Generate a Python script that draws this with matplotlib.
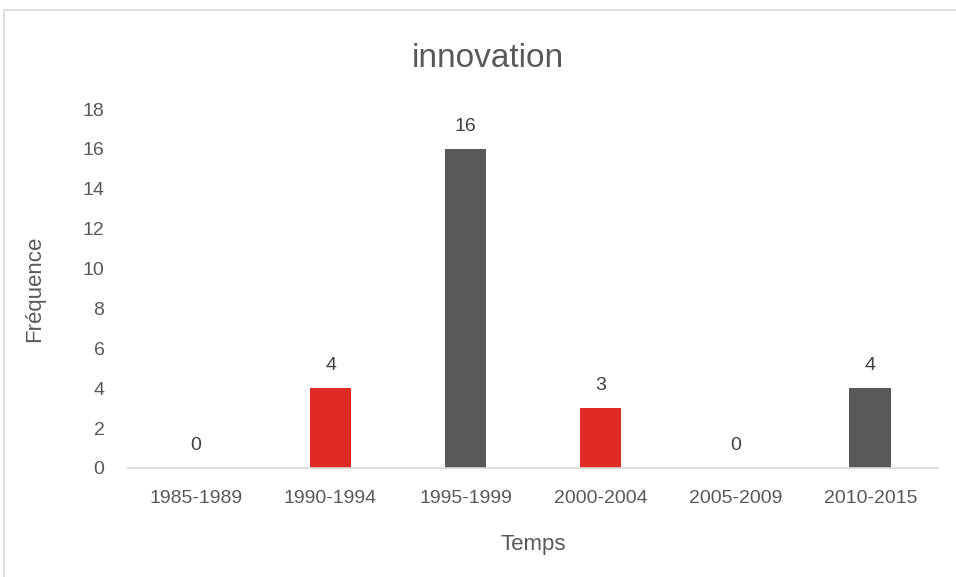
import matplotlib.pyplot as plt
from matplotlib.patches import Rectangle

categories = ["1985-1989", "1990-1994", "1995-1999", "2000-2004", "2005-2009", "2010-2015"]
values = [0, 4, 16, 3, 0, 4]
colors = ["#595959", "#E02B24", "#595959", "#E02B24", "#595959", "#595959"]

plt.rcParams['font.family'] = ['Liberation Sans', 'DejaVu Sans']
txt = "#595959"

fig = plt.figure(figsize=(9.56, 5.77), dpi=100)
fig.patches.append(Rectangle((0.004, -0.1), 1.2, 1.083, transform=fig.transFigure,
                             fill=False, edgecolor="#D9D9D9", linewidth=1.2))
ax = fig.add_axes([0.134, 0.189, 0.847, 0.622])

x = range(len(categories))
bars = ax.bar(x, values, width=0.31, color=colors)
for i, v in enumerate(values):
    ax.annotate(str(v), (i, v), xytext=(0, 10), textcoords="offset points",
                ha="center", va="bottom", fontsize=14, color="#404040")

ax.set_xlim(-0.5, len(categories) - 0.5)
ax.set_ylim(0, 18)
ax.set_yticks(range(0, 19, 2))
ax.set_xticks(list(x))
ax.set_xticklabels(categories)
ax.tick_params(length=0, labelsize=14, colors=txt, pad=16)
ax.tick_params(axis='y', pad=17)
for s in ["top", "right", "left"]:
    ax.spines[s].set_visible(False)
ax.spines["bottom"].set_color("#D9D9D9")
ax.spines["bottom"].set_linewidth(1.2)

ax.set_title("innovation", fontsize=24, color=txt, pad=30, x=0.444)
ax.set_xlabel("Temps", fontsize=16, color=txt, labelpad=19)
ax.set_ylabel("Fréquence", fontsize=16, color=txt, labelpad=27)

fig.savefig("out.png", dpi=100)
